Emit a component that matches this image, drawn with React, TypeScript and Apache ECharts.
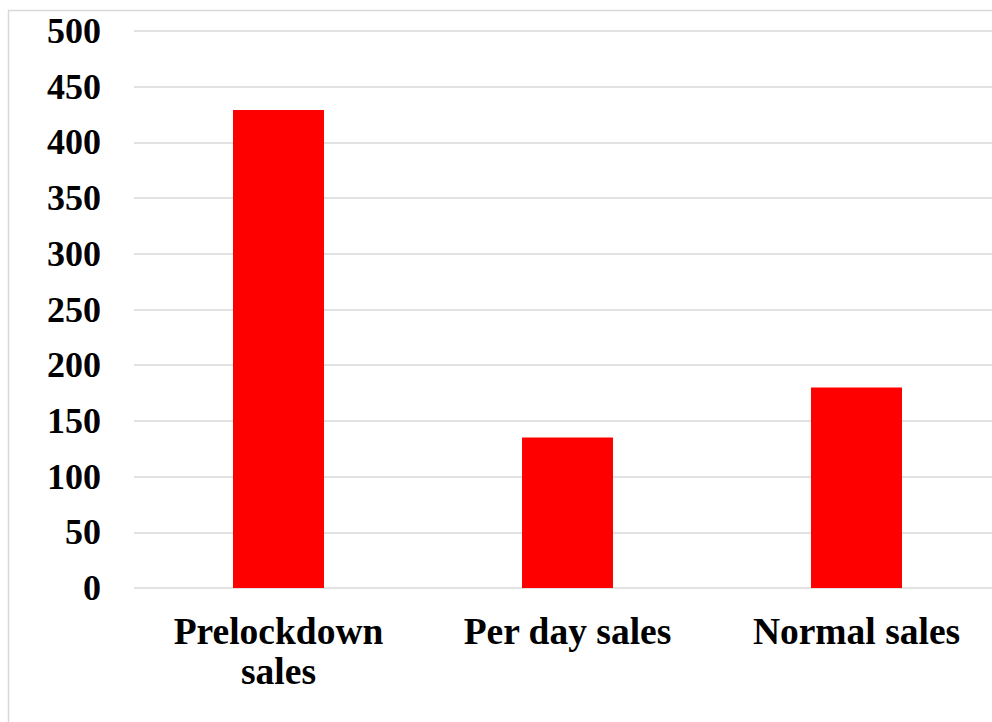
import React, { useEffect, useRef } from "react";
import * as echarts from "echarts";

const categories = ["Prelockdown sales", "Per day sales", "Normal sales"];
const salesValues = [429, 135, 180];
const yMin = 0;
const yMax = 500;
const yInterval = 50;

export default function App() {
  const ref = useRef<HTMLDivElement>(null);
  useEffect(() => {
    if (!ref.current) return;
    const chart = echarts.init(ref.current, null, { renderer: "svg" });
    const font = '"Liberation Serif", "Times New Roman", serif';
    chart.setOption({
      animation: false,
      backgroundColor: "#ffffff",
      graphic: [
        {
          type: "rect",
          shape: { x: 8.5, y: 10.5, width: 1010, height: 730 },
          style: { fill: "none", stroke: "#d9d9d9", lineWidth: 1.5 },
          silent: true,
        },
      ],
      grid: { left: 134, top: 31, width: 867, height: 557 },
      xAxis: {
        type: "category",
        data: categories,
        axisLine: { show: false },
        axisTick: { show: false },
        axisLabel: {
          color: "#000",
          fontFamily: font,
          fontWeight: "bold",
          fontSize: 37.5,
          lineHeight: 40,
          margin: 23,
          interval: 0,
          formatter: (v: string) => (v === "Prelockdown sales" ? "Prelockdown\nsales" : v),
        },
      },
      yAxis: {
        type: "value",
        min: yMin,
        max: yMax,
        interval: yInterval,
        axisLine: { show: false },
        axisTick: { show: false },
        splitLine: { lineStyle: { color: "#d9d9d9", width: 1.5 } },
        axisLabel: {
          color: "#000",
          fontFamily: font,
          fontWeight: "bold",
          fontSize: 36,
          margin: 33,
        },
      },
      series: [
        {
          type: "bar",
          data: salesValues,
          barWidth: 91,
          itemStyle: { color: "#ff0000" },
        },
      ],
    });
    return () => chart.dispose();
  }, []);
  return (
    <div
      style={{ position: "fixed", left: 0, top: 0, width: 992, height: 722, overflow: "hidden", background: "#fff" }}
    >
      <div ref={ref} style={{ width: 1020, height: 722 }} />
    </div>
  );
}
